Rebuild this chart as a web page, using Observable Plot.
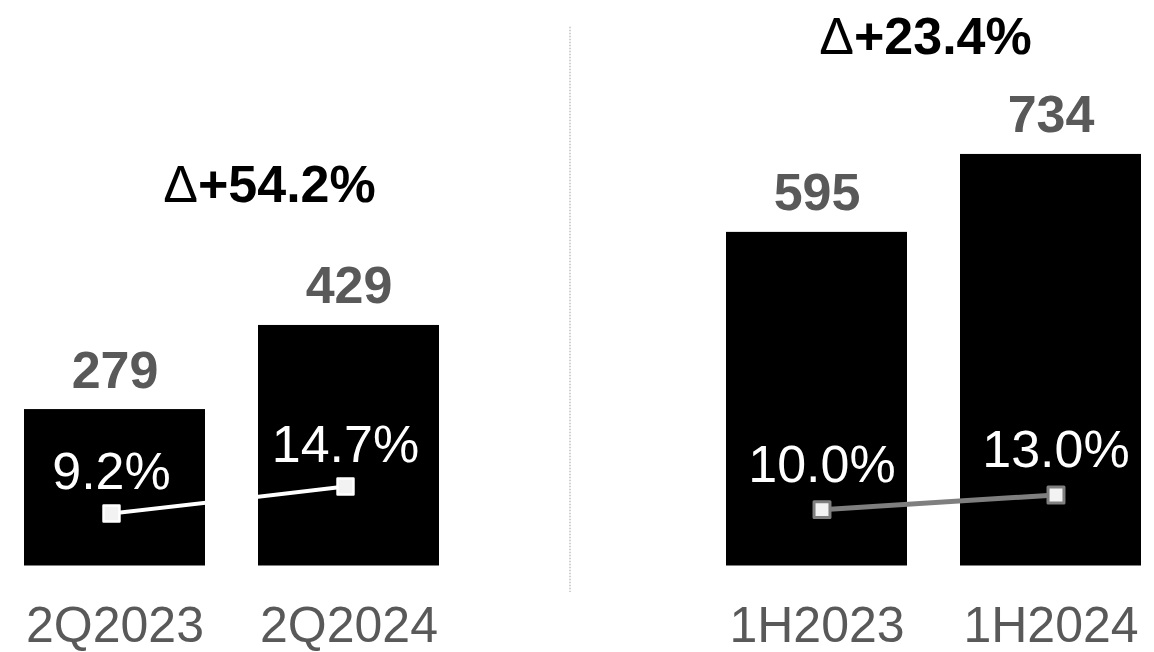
<!DOCTYPE html>
<html>
<head>
<meta charset="utf-8">
<script src="https://cdn.jsdelivr.net/npm/d3@7"></script>
<script src="https://cdn.jsdelivr.net/npm/@observablehq/plot@0.6"></script>
<style>
  html, body { margin: 0; padding: 0; background: #ffffff; }
  #chart { width: 1154px; height: 652px; }
</style>
</head>
<body>
<div id="chart"></div>
<script>
// ---- data ----
const categories = ["2Q2023", "2Q2024", "1H2023", "1H2024"];
const panels = ["2Q", "2Q", "1H", "1H"];
const sales = [279, 429, 595, 734];
const margins = [9.2, 14.7, 10.0, 13.0];
const marginLabels = ["9.2%", "14.7%", "10.0%", "13.0%"];
const deltaLabels = ["Δ+54.2%", "Δ+23.4%"];
const spacer = " ";

// x slots: two panels separated by an empty slot
const xDomain = [categories[0], categories[1], spacer, categories[2], categories[3]];

// secondary (percentage) axis mapped onto the primary value axis
const pctAxis = d3.scaleLinear().domain([-1.5, 112.9]).range([0, 1000]);

const rows = categories.map((c, i) => ({
  cat: c, panel: panels[i], sales: sales[i],
  margin: margins[i], marginLabel: marginLabels[i],
  my: pctAxis(margins[i])
}));
const left = rows.filter(d => d.panel === "2Q");
const right = rows.filter(d => d.panel === "1H");

const FONT = "'Liberation Sans', Arial, sans-serif";

const chart = Plot.plot({
  width: 1154,
  height: 652,
  marginTop: 4.8,
  marginBottom: 86.5,
  marginLeft: 0,
  marginRight: 0,
  style: { fontFamily: FONT, background: "#ffffff", overflow: "visible" },
  x: { type: "band", domain: xDomain, range: [-3.75, 1168.75], paddingInner: 0.228, paddingOuter: 0.114, axis: null },
  y: { domain: [0, 1000], axis: null },
  marks: [
    // divider
    Plot.ruleX([spacer], { x: d => d, dx: -13, stroke: "#b0b0b0", strokeWidth: 1.2, strokeDasharray: "1.5,1.5", insetTop: 22, insetBottom: -26.5 }),
    // bars
    Plot.barY(rows, { x: "cat", y: "sales", fill: "#000000" }),
    // category axis
    Plot.axisX({ ticks: categories, tickSize: 0, tickPadding: 40, fontSize: 50, fill: "#595959", anchor: "bottom", label: null }),
    // value labels
    Plot.text(rows, { x: "cat", y: "sales", text: d => String(d.sales), lineAnchor: "bottom", dy: -22, fontSize: 52, fontWeight: "bold", fill: "#595959" }),
    // margin lines
    Plot.line(left, { x: "cat", y: "my", dx: -3.5, stroke: "#ffffff", strokeWidth: 4 }),
    Plot.line(right, { x: "cat", y: "my", dx: 5, stroke: "#7f7f7f", strokeWidth: 5 }),
    Plot.dot(left, { x: "cat", y: "my", dx: -3.5, symbol: "square", r: 9, fill: "#f2f2f2", stroke: "#ffffff", strokeWidth: 2.5, strokeLinejoin: "round" }),
    Plot.dot(right, { x: "cat", y: "my", dx: 5, symbol: "square", r: 9, fill: "#f2f2f2", stroke: "#7f7f7f", strokeWidth: 3, strokeLinejoin: "round" }),
    Plot.text(left, { x: "cat", y: "my", dx: -3.5, text: "marginLabel", lineAnchor: "bottom", dy: -25, fontSize: 52, fill: "#ffffff" }),
    Plot.text(right, { x: "cat", y: "my", dx: 5, text: "marginLabel", lineAnchor: "bottom", dy: -27.5, fontSize: 52, fill: "#ffffff" }),
    // growth labels
    Plot.text([left[1]], { x: () => left[0].cat, y: "sales", text: () => deltaLabels[0], lineAnchor: "bottom", dx: 154.5, dy: -123, fontSize: 52, fontWeight: "bold", fill: "#000000" }),
    Plot.text([right[1]], { x: () => right[0].cat, y: "sales", text: () => deltaLabels[1], lineAnchor: "bottom", dx: 108.5, dy: -100, fontSize: 52, fontWeight: "bold", fill: "#000000" })
  ]
});

// render the delta symbol in regular weight
chart.querySelectorAll("text").forEach(t => {
  const s = t.textContent;
  if (s.startsWith("Δ")) {
    t.textContent = "";
    const ns = "http://www.w3.org/2000/svg";
    const a = document.createElementNS(ns, "tspan");
    a.setAttribute("font-weight", "normal");
    a.textContent = "Δ";
    const b = document.createElementNS(ns, "tspan");
    b.textContent = s.slice(1);
    t.appendChild(a); t.appendChild(b);
  }
});

document.getElementById("chart").appendChild(chart);
</script>
</body>
</html>
